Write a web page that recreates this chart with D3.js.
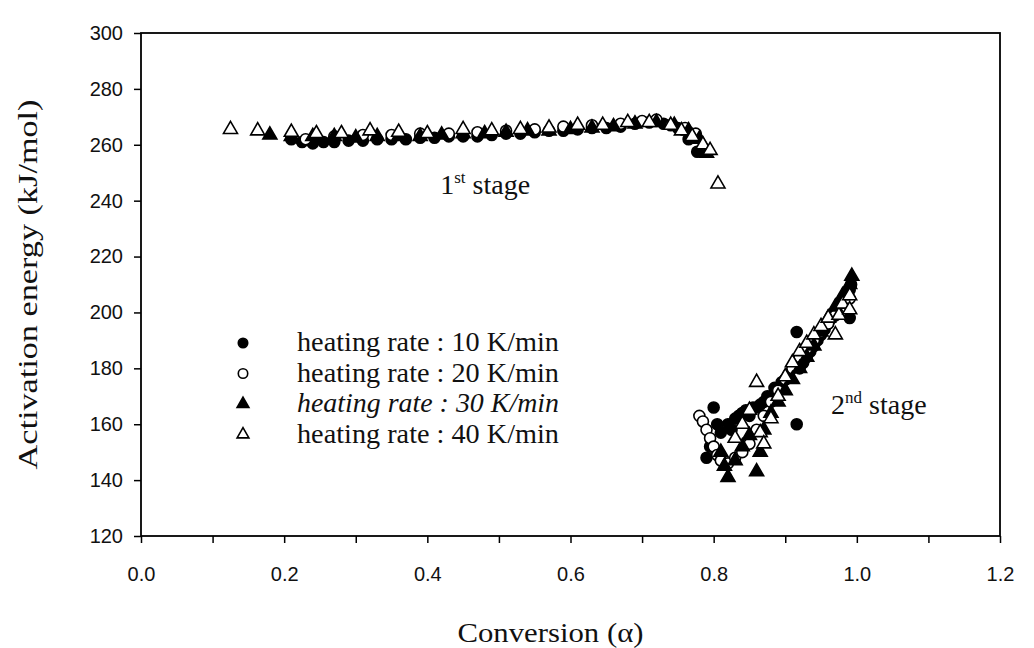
<!DOCTYPE html>
<head>
  <meta charset="utf-8">
  <script src="https://d3js.org/d3.v7.min.js"></script>
  <style>body{margin:0;background:#fff}</style>
</head>
<body>
<div id="chart"></div>
<script>

// ---- data ----
var rateLabels = ["heating rate : 10 K/min", "heating rate : 20 K/min",
                  "heating rate : 30 K/min", "heating rate : 40 K/min"];

var conv10 = [0.21,0.225,0.24,0.255,0.27,0.29,0.31,0.33,0.35,0.37,0.39,0.41,0.43,0.45,0.47,0.49,0.51,0.53,0.55,0.57,0.59,0.61,0.63,0.65,0.67,0.69,0.71,0.73,0.75,0.765,0.777,
              0.79,0.795,0.80,0.805,0.81,0.82,0.825,0.83,0.835,0.84,0.845,0.85,0.855,0.86,0.865,0.87,0.875,0.88,0.885,0.89,0.895,0.90,0.905,0.916,0.916,
              0.92,0.925,0.93,0.935,0.94,0.945,0.95,0.955,0.96,0.965,0.97,0.975,0.98,0.985,0.99,0.99,0.992];
var ea10   = [262,261,260.5,261,261,261.5,261.5,262,262,262,262.5,262.5,263,263,263,263.5,264,264,264.5,265,265,265.5,266,266,266.5,267.5,268,267.5,266,262,257.5,
              148,152,166,160,157,160,158,162,163,164,165,163,166,166,167,168,170,170,173,172,175,176,178,193,160,
              180,182,184,186,188,190,192,194,196,198,200,201,204,205,208,198,210];

var conv20 = [0.23,0.27,0.31,0.35,0.39,0.43,0.47,0.51,0.55,0.59,0.63,0.67,0.70,0.72,0.74,0.76,0.775,
              0.78,0.785,0.79,0.795,0.80,0.805,0.81,0.82,0.83,0.84,0.85,0.86,0.87,0.88,0.89,0.90,0.91,0.92,0.93,0.94,0.95,0.96,0.97,0.98,0.99];
var ea20   = [262,263,263.5,263.5,264,264,264.5,265,265.5,266.5,267,267.5,268.5,269,267,266,264,
              163,161,158,155,152,149,147,146,148,150,153,158,163,168,172,176,180,184,187,190,193,196,199,202,205];

var conv30 = [0.18,0.21,0.24,0.27,0.30,0.33,0.36,0.39,0.42,0.45,0.48,0.51,0.54,0.57,0.60,0.63,0.66,0.69,0.72,0.745,0.765,0.78,0.79,
              0.81,0.815,0.82,0.83,0.84,0.85,0.86,0.865,0.87,0.88,0.89,0.90,0.91,0.92,0.93,0.94,0.95,0.96,0.97,0.98,0.99,0.993];
var ea30   = [263.5,263,263,263,262.5,263,263,263,263.5,264,264,264.5,265,265,265.5,266,266.5,267.5,268,267,265,262,257,
              150,145,141,147,152,156,143,150,158,164,168,172,176,180,184,188,193,198,202,206,210,213];

var conv40 = [0.125,0.163,0.21,0.245,0.28,0.32,0.36,0.40,0.45,0.49,0.53,0.57,0.61,0.645,0.68,0.71,0.74,0.755,0.77,0.785,0.795,0.806,
              0.83,0.84,0.85,0.86,0.865,0.87,0.88,0.89,0.90,0.91,0.92,0.93,0.94,0.95,0.96,0.97,0.975,0.98,0.99,0.99];
var ea40   = [265.5,265,264.5,264,264,265,264.5,264,265.5,265,265.5,266,267,267,268,268,267,265,263,260,258,246,
              155,160,165,175,157,153,162,170,177,182,186,189,192,195,198,192,199,203,206,201];

var xTicks = [0,0.1,0.2,0.3,0.4,0.5,0.6,0.7,0.8,0.9,1.0,1.1,1.2];
var yTicks = [120,140,160,180,200,220,240,260,280,300];

// ---- layout ----
var W = 1034, H = 648;
var margin = {top: 33, right: 34, bottom: 112, left: 141},
    width = W - margin.left - margin.right,
    height = H - margin.top - margin.bottom;

var svg = d3.select("#chart").append("svg")
    .attr("width", W).attr("height", H)
  .append("g")
    .attr("transform", "translate(" + margin.left + "," + margin.top + ")");

var x = d3.scaleLinear().domain([0, 1.2]).range([0, width]);
var y = d3.scaleLinear().domain([120, 300]).range([height, 0]);

// axes
var xAxis = svg.append("g")
    .attr("transform", "translate(0," + height + ")")
    .call(d3.axisBottom(x).tickValues(xTicks).tickSize(7).tickSizeOuter(0)
      .tickFormat(function(d){ return Math.round(d*10) % 2 === 0 ? d3.format(".1f")(d) : ""; }));
var yAxis = svg.append("g")
    .call(d3.axisLeft(y).tickValues(yTicks).tickSize(7).tickSizeOuter(0).tickFormat(d3.format("d")));

[xAxis, yAxis].forEach(function(a){
  a.select(".domain").remove();
  a.selectAll(".tick line").attr("stroke", "#000").attr("stroke-width", 1.5);
  a.selectAll("text").style("font-family", "'Liberation Sans', Arial, sans-serif")
    .style("font-size", "20px").attr("fill", "#111");
});
xAxis.selectAll("text").attr("dy", "1.75em");
yAxis.selectAll("text").attr("x", -18);

// frame
svg.append("rect").attr("width", width).attr("height", height)
  .attr("fill", "none").attr("stroke", "#000").attr("stroke-width", 1.8);

// series
var series = [
  {conv: conv10, ea: ea10, shape: d3.symbolCircle, filled: true},
  {conv: conv20, ea: ea20, shape: d3.symbolCircle, filled: false},
  {conv: conv30, ea: ea30, shape: d3.symbolTriangle, filled: true},
  {conv: conv40, ea: ea40, shape: d3.symbolTriangle, filled: false}
];

series.forEach(function(s){
  var pts = s.conv.map(function(c, i){ return [c, s.ea[i]]; });
  var sym = d3.symbol().type(s.shape).size(s.shape === d3.symbolCircle ? 95 : 85);
  svg.append("g").selectAll("path")
    .data(pts).enter().append("path")
      .attr("d", sym)
      .attr("transform", function(d){ return "translate(" + x(d[0]) + "," + y(d[1]) + ")"; })
      .attr("fill", s.filled ? "#000" : "#fff")
      .attr("stroke", "#000").attr("stroke-width", 1.6);
});

// legend
var serif = "'Liberation Serif', 'Times New Roman', serif";
var legend = svg.append("g").attr("transform", "translate(102,310)");
rateLabels.forEach(function(lbl, i){
  var row = legend.append("g").attr("transform", "translate(0," + (i * 30.5) + ")");
  var s = series[i];
  row.append("path")
    .attr("d", d3.symbol().type(s.shape).size(s.shape === d3.symbolCircle ? 70 : 60))
    .attr("fill", s.filled ? "#000" : "#fff")
    .attr("stroke", "#000").attr("stroke-width", 1.6);
  row.append("text").attr("x", 54).attr("y", 8)
    .style("font-family", serif).style("font-size", "27px")
    .style("font-style", i === 2 ? "italic" : "normal")
    .attr("textLength", 262).attr("lengthAdjust", "spacingAndGlyphs")
    .attr("fill", "#111")
    .text(lbl);
});

// stage annotations
function stage(tx, ty, num, sup) {
  var t = svg.append("text").attr("x", tx).attr("y", ty)
    .style("font-family", serif).style("font-size", "28px").attr("fill", "#111");
  t.append("tspan").text(num);
  t.append("tspan").attr("dy", -11).style("font-size", "17px").text(sup);
  t.append("tspan").attr("dy", 11).text(" stage");
}
stage(x(0.418), y(242.5), "1", "st");
stage(x(0.964), y(163.8), "2", "nd");

// axis titles
svg.append("text")
  .attr("transform", "translate(" + (-104) + "," + (height / 2) + ") rotate(-90)")
  .attr("text-anchor", "middle")
  .style("font-family", serif).style("font-size", "28px").attr("fill", "#111")
  .attr("textLength", 370).attr("lengthAdjust", "spacingAndGlyphs")
  .text("Activation energy (kJ/mol)");

svg.append("text")
  .attr("x", width / 2 - 20).attr("y", height + 106)
  .attr("text-anchor", "middle")
  .style("font-family", serif).style("font-size", "28px").attr("fill", "#111")
  .attr("textLength", 186).attr("lengthAdjust", "spacingAndGlyphs")
  .text("Conversion (\u03b1)");

</script>
</body>
